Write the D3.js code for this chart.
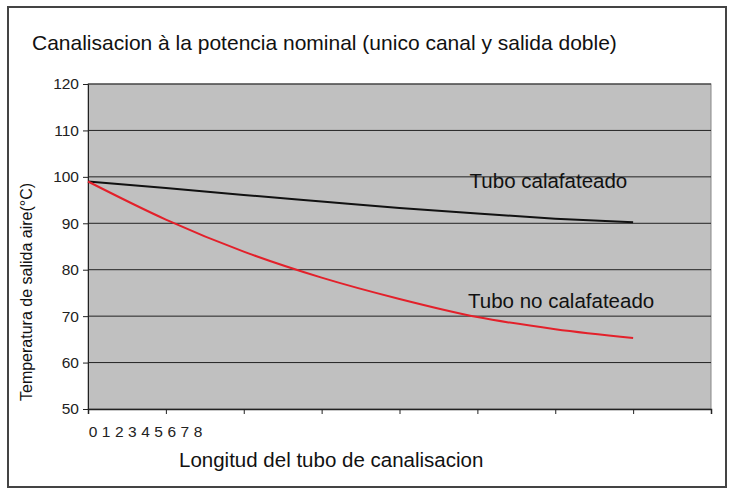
<!DOCTYPE html>
<html>
<head>
<meta charset="utf-8">
<script src="https://cdn.jsdelivr.net/npm/d3@7"></script>
<style>
  body { margin: 0; background: #fff; }
  svg { display: block; font-family: "Liberation Sans", Arial, sans-serif; }
</style>
</head>
<body>
<svg id="chart" width="729" height="489"></svg>
<script>
// data
const lengths = [0, 1, 2, 3, 4, 5, 6, 7];
const calafateado = [99.0, 97.6, 96.1, 94.7, 93.3, 92.1, 91.0, 90.2];
const noCalafateado = [99.0, 90.8, 83.9, 78.3, 73.7, 69.8, 67.2, 65.3];
const xTickLabels = ['0', '1', '2', '3', '4', '5', '6', '7', '8'];
const yTicks = [50, 60, 70, 80, 90, 100, 110, 120];
const labels = [
  { text: 'Tubo calafateado', x: 4.9, y: 97.6 },
  { text: 'Tubo no calafateado', x: 4.88, y: 71.8 }
];

const svg = d3.select('#chart');
const margin = { top: 84, right: 18, bottom: 80, left: 88 };
const width = 729 - margin.left - margin.right;
const height = 489 - margin.top - margin.bottom;

// outer frame
svg.append('rect')
  .attr('x', 8).attr('y', 7)
  .attr('width', 718).attr('height', 480)
  .attr('fill', '#fff')
  .attr('stroke', '#444')
  .attr('stroke-width', 2);

svg.append('text')
  .attr('x', 32).attr('y', 50)
  .attr('font-size', 21)
  .attr('fill', '#111')
  .text('Canalisacion à la potencia nominal (unico canal y salida doble)');

const g = svg.append('g').attr('transform', `translate(${margin.left},${margin.top})`);

const x = d3.scaleLinear().domain([0, 8]).range([0, width]);
const y = d3.scaleLinear().domain([50, 120]).range([height, 0]);
// the tick labels sit squeezed together at the left, like in the original
const xLab = d3.scaleLinear().domain([0, 8]).range([5, 110]);

g.append('rect')
  .attr('width', width).attr('height', height)
  .attr('fill', '#c0c0c0')
  .attr('stroke', '#888')
  .attr('stroke-width', 1);

// gridlines
g.append('g')
  .selectAll('line')
  .data(yTicks.filter(d => d > 50))
  .join('line')
  .attr('x1', 0).attr('x2', width)
  .attr('y1', d => y(d)).attr('y2', d => y(d))
  .attr('stroke', '#222')
  .attr('stroke-width', 1);

// y axis
const yAxis = g.append('g')
  .call(d3.axisLeft(y).tickValues(yTicks).tickSize(5).tickPadding(4));
yAxis.select('.domain').attr('stroke', '#222');
yAxis.selectAll('line').attr('stroke', '#222');
yAxis.selectAll('text')
  .attr('font-size', 15.5)
  .attr('fill', '#222')
  .style('font-family', '"Liberation Sans", Arial, sans-serif');

// x axis: ticks only, labels drawn separately
const xAxis = g.append('g')
  .attr('transform', `translate(0,${height})`)
  .call(d3.axisBottom(x).ticks(8).tickSize(5).tickFormat(''));
xAxis.select('.domain').attr('stroke', '#222').attr('stroke-width', 1.5);
xAxis.selectAll('line').attr('stroke', '#222');

g.append('g')
  .selectAll('text')
  .data(xTickLabels)
  .join('text')
  .attr('x', (d, i) => xLab(i))
  .attr('y', height + 28)
  .attr('text-anchor', 'middle')
  .attr('font-size', 15.5)
  .attr('fill', '#222')
  .text(d => d);

const line = d3.line()
  .x((d, i) => x(lengths[i]))
  .y(d => y(d))
  .curve(d3.curveMonotoneX);

g.append('path')
  .datum(calafateado)
  .attr('d', line)
  .attr('fill', 'none')
  .attr('stroke', '#111')
  .attr('stroke-width', 2);

g.append('path')
  .datum(noCalafateado)
  .attr('d', line)
  .attr('fill', 'none')
  .attr('stroke', '#e3202a')
  .attr('stroke-width', 2);

g.append('g')
  .selectAll('text')
  .data(labels)
  .join('text')
  .attr('x', d => x(d.x))
  .attr('y', d => y(d.y))
  .attr('font-size', 20.5)
  .attr('fill', '#111')
  .text(d => d.text);

// axis titles
svg.append('text')
  .attr('x', 179).attr('y', 467)
  .attr('font-size', 20.5)
  .attr('fill', '#111')
  .text('Longitud del tubo de canalisacion');

svg.append('text')
  .attr('transform', 'translate(32,292) rotate(-90)')
  .attr('text-anchor', 'middle')
  .attr('font-size', 16)
  .attr('fill', '#111')
  .text('Temperatura de salida aire(°C)');
</script>
</body>
</html>
